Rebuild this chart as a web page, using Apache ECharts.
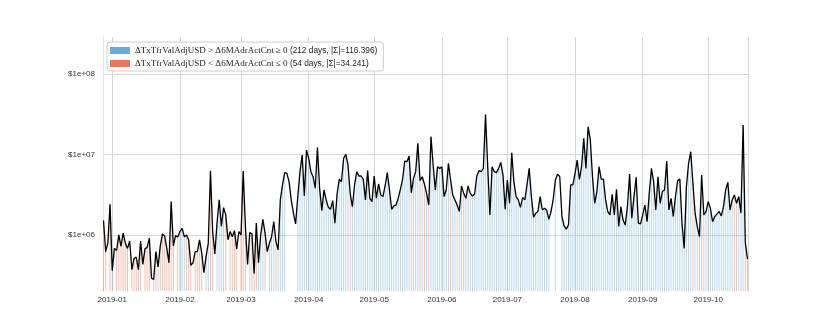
<!DOCTYPE html>
<html>
<head>
<meta charset="utf-8">
<script src="https://cdn.jsdelivr.net/npm/echarts@6/dist/echarts.min.js"></script>
<style>
  html, body { margin: 0; padding: 0; background: #fff; }
  #chart { width: 830px; height: 332px; }
</style>
</head>
<body>
<div id="chart"></div>
<script>
// first day of the series (year, month 0-based, day)
const startDate = [2018, 11, 28];

// daily value, USD millions
const valueM = [
  1.51,0.62,0.79,2.40,0.36,0.68,0.64,1.00,0.72,1.05,
  0.79,0.68,0.84,0.37,0.51,0.53,0.37,0.84,0.43,0.67,
  0.70,0.91,0.29,0.28,0.62,0.40,0.72,1.03,0.97,0.68,
  0.45,2.59,0.73,0.98,0.94,1.10,1.21,0.95,1.00,0.87,
  0.42,0.45,0.62,0.62,0.87,0.59,0.34,0.54,0.79,6.28,
  1.10,0.58,1.40,2.72,1.27,2.18,1.77,0.87,1.10,0.95,
  1.13,0.67,1.10,1.00,6.21,1.27,0.43,1.07,1.03,0.33,
  1.40,0.45,1.00,1.56,1.05,0.62,0.79,0.95,1.46,0.83,
  0.65,2.72,4.17,5.93,5.81,4.58,2.72,1.86,1.37,2.99,
  6.10,9.81,3.04,11.3,8.92,6.10,5.28,3.79,12.2,3.79,
  2.00,3.61,2.72,2.20,2.08,2.66,1.40,3.22,4.94,4.58,
  8.92,10.0,7.38,3.28,2.24,4.17,6.10,5.39,5.39,4.90,
  2.72,6.28,2.85,2.59,5.39,2.85,4.29,3.13,2.99,4.05,
  5.93,3.61,2.08,2.29,2.35,2.85,3.68,4.90,8.27,8.11,
  9.53,3.35,5.04,6.10,13.7,4.72,5.28,4.29,3.28,2.35,
  16.6,7.38,3.61,7.03,6.70,7.03,2.99,3.61,7.73,4.81,
  3.13,2.72,2.35,1.95,4.05,3.28,2.85,4.05,3.28,3.04,
  3.22,5.39,6.28,6.10,6.70,31.3,7.03,1.77,7.03,6.10,
  5.93,6.70,7.96,5.54,2.08,4.81,2.47,10.5,4.58,2.99,
  2.72,2.20,2.93,2.72,4.17,6.70,2.99,1.66,1.86,1.95,
  2.99,2.04,2.14,2.04,1.56,1.95,2.77,4.81,5.70,5.28,
  1.69,1.29,1.18,1.33,4.17,4.17,5.81,8.51,4.90,7.03,
  15.8,6.70,22.0,15.1,5.28,2.47,3.45,7.03,4.94,4.94,
  2.72,1.95,1.77,3.19,1.77,3.68,1.27,2.24,1.53,1.33,
  2.24,5.70,1.61,2.99,5.19,1.40,1.37,1.77,2.35,1.46,
  3.28,6.70,4.58,2.04,5.28,2.47,3.45,3.61,8.27,2.04,
  2.85,1.69,2.99,4.72,4.94,1.40,0.68,3.90,7.73,10.8,
  4.37,1.86,1.27,0.95,5.54,1.77,1.95,2.59,2.14,1.46,
  1.69,1.82,1.95,1.72,2.24,3.61,4.50,2.04,2.72,3.13,
  2.47,2.99,1.86,23.1,0.80,0.50
];

// b = first legend group, r = second, . = neither
const dayClass = (
  'rr.rr.rrrr' + 'rr.rrrrr.r' + 'rr.rrbrrrr' + 'rrr.rbbbrr' + 'r.rrrr.bbr' +
  'r.bbbbr.rr' + 'rr.rrr.brr' + 'rbbbr.bbbr' + 'bbbb.....b' + 'bbbbbbbbbb' +
  'bbbbbbbbbb' + 'bbbrbbbbbb' + 'bbbbbbbbbb' + 'bbbbbbbbbb' + 'brbbbrbrbr' +
  'bbbbbbbbbr' + 'bbbrbrbbbb' + 'bbbbbbbbbb' + 'bbbbbbbbbb' + 'bbbbbbbbbb' +
  'bbbbb..b..' + 'bbbbbbbbbb' + 'bbbbbbbbbb' + 'bbbbbbbbbb' + 'bbbbbbbbbb' +
  'bbbbbbbbbb' + 'bbbbbbbbbb' + 'rbbrbrbbbb' + 'bbbbbbbbbr' + 'rbbbrr'
).split('');

const seriesNames = [
  'ΔTxTfrValAdjUSD > Δ6MAdrActCnt ≥ 0 (212 days, |Σ|=116.396)',
  'ΔTxTfrValAdjUSD < Δ6MAdrActCnt ≤ 0 (54 days, |Σ|=34.241)'
];

const dates = valueM.map((v, i) =>
  new Date(startDate[0], startDate[1], startDate[2] + i).getTime());
const lineData = valueM.map((v, i) => [dates[i], v * 1e6]);
const pick = c => valueM.map((v, i) => [dates[i], v * 1e6]).filter((p, i) => dayClass[i] === c);

const pad = n => (n < 10 ? '0' : '') + n;

const chart = echarts.init(document.getElementById('chart'));
chart.setOption({
  animation: false,
  grid: { left: 103, right: 82, top: 37, bottom: 41 },
  legend: {
    left: 107, top: 42, orient: 'vertical',
    backgroundColor: '#fff', borderColor: '#cccccc', borderWidth: 1, borderRadius: 3,
    padding: [4, 6, 3, 3], itemGap: 4, itemWidth: 20, itemHeight: 7,
    icon: 'rect',
    data: [
      { name: seriesNames[0], itemStyle: { color: '#6aaed6', opacity: 1 } },
      { name: seriesNames[1], itemStyle: { color: '#e6795e', opacity: 1 } }
    ],
    formatter: name => {
      const k = name.indexOf(' (');
      return '{m|' + name.slice(0, k) + '}{s|' + name.slice(k) + '}';
    },
    textStyle: {
      color: '#222',
      rich: {
        m: { fontFamily: 'Liberation Serif', fontSize: 9, color: '#222' },
        s: { fontFamily: 'Liberation Sans', fontSize: 8.3, color: '#222' }
      }
    }
  },
  xAxis: {
    type: 'time',
    min: dates[0],
    max: dates[dates.length - 1],
    splitNumber: 10,
    axisLine: { show: false },
    axisTick: { show: false },
    axisLabel: {
      formatter: v => { const d = new Date(v); return d.getFullYear() + '-' + pad(d.getMonth() + 1); },
      fontFamily: 'Liberation Sans', fontSize: 8, color: '#333', margin: 5,
      showMinLabel: false, showMaxLabel: false
    },
    splitLine: { show: true, lineStyle: { color: '#d6d6d6', width: 1 } }
  },
  yAxis: {
    type: 'log',
    logBase: 10,
    min: 2.01e5,
    max: 2.87e8,
    axisLine: { show: true, lineStyle: { color: '#e3e3e3' } },
    axisTick: { show: false },
    axisLabel: {
      showMinLabel: false, showMaxLabel: false,
      formatter: v => '$1e+' + pad(Math.round(Math.log10(v))),
      fontFamily: 'Liberation Sans', fontSize: 8, color: '#333', margin: 8
    },
    splitLine: { show: true, showMinLine: false, showMaxLine: false,
      lineStyle: { color: '#d6d6d6', width: 1 } }
  },
  series: [
    {
      name: seriesNames[0], type: 'bar', data: pick('b'),
      barWidth: 1, barGap: '-100%', clip: true,
      itemStyle: { color: '#7fb8dc', opacity: 0.55 }
    },
    {
      name: seriesNames[1], type: 'bar', data: pick('r'),
      barWidth: 1, barGap: '-100%', clip: true,
      itemStyle: { color: '#ec8c73', opacity: 0.55 }
    },
    {
      name: 'value', type: 'line', data: lineData,
      showSymbol: false, z: 5,
      lineStyle: { color: '#000', width: 1.3 }
    }
  ]
});
</script>
</body>
</html>
